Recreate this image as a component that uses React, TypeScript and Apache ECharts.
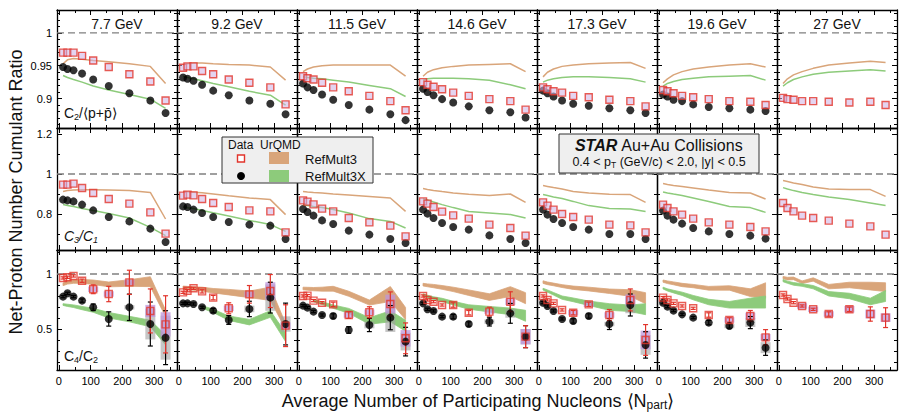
import React, { useEffect, useRef } from 'react';
import * as echarts from 'echarts';

const ENERGIES = ['7.7 GeV', '9.2 GeV', '11.5 GeV', '14.6 GeV', '17.3 GeV', '19.6 GeV', '27 GeV'];
const NPART = [13, 27, 46, 73, 108, 157, 222, 288, 336];
const X_TICKS = [0, 100, 200, 300];
const Y_TICKS = [[0.9, 0.95, 1], [0.8, 1, 1.2], [0.5, 1]];

// Row 1: C2/<p+pbar>
const C2_DATA3 = [
  [0.970, 0.970, 0.970, 0.965, 0.958, 0.948, 0.937, 0.926, 0.897],
  [0.947, 0.949, 0.949, 0.942, 0.937, 0.929, 0.924, 0.917, 0.891],
  [0.934, 0.931, 0.929, 0.924, 0.917, 0.911, 0.904, 0.896, 0.882],
  [0.925, 0.921, 0.918, 0.914, 0.909, 0.904, 0.899, 0.896, 0.883],
  [0.917, 0.914, 0.911, 0.909, 0.904, 0.902, 0.898, 0.896, 0.888],
  [0.913, 0.911, 0.908, 0.904, 0.902, 0.899, 0.896, 0.895, 0.890],
  [0.901, 0.899, 0.898, 0.896, 0.896, 0.895, 0.894, 0.895, 0.890],
];
const C2_DATA3X = [
  [0.948, 0.945, 0.943, 0.938, 0.929, 0.919, 0.908, 0.897, 0.878],
  [0.932, 0.930, 0.927, 0.921, 0.912, 0.905, 0.897, 0.892, 0.876],
  [0.923, 0.917, 0.913, 0.906, 0.898, 0.890, 0.883, 0.876, 0.867],
  [0.915, 0.910, 0.905, 0.899, 0.894, 0.888, 0.882, 0.879, 0.871],
  [0.912, 0.908, 0.903, 0.897, 0.892, 0.889, 0.885, 0.882, 0.878],
  [0.906, 0.903, 0.898, 0.896, 0.891, 0.887, 0.885, 0.883, 0.881],
  null,
];
const C2_URQMD3 = [
  [0.953, 0.959, 0.961, 0.960, 0.958, 0.956, 0.953, 0.949, 0.923],
  [0.951, 0.953, 0.954, 0.954, 0.953, 0.952, 0.951, 0.948, 0.928],
  [0.941, 0.945, 0.948, 0.950, 0.951, 0.951, 0.951, 0.951, 0.934],
  [0.934, 0.940, 0.944, 0.947, 0.949, 0.951, 0.952, 0.953, 0.941],
  [0.933, 0.940, 0.945, 0.949, 0.951, 0.953, 0.954, 0.955, 0.946],
  [0.924, 0.930, 0.936, 0.941, 0.945, 0.948, 0.951, 0.953, 0.948],
  [0.923, 0.930, 0.936, 0.941, 0.946, 0.951, 0.954, 0.957, 0.955],
];
const C2_URQMD3X = [
  [0.935, 0.932, 0.929, 0.925, 0.919, 0.913, 0.906, 0.899, 0.885],
  [0.934, 0.932, 0.930, 0.927, 0.923, 0.918, 0.911, 0.905, 0.890],
  [0.933, 0.932, 0.931, 0.930, 0.928, 0.925, 0.920, 0.915, 0.903],
  [0.928, 0.930, 0.931, 0.931, 0.931, 0.930, 0.928, 0.921, 0.915],
  [0.925, 0.928, 0.930, 0.932, 0.933, 0.933, 0.932, 0.930, 0.925],
  [0.919, 0.923, 0.926, 0.929, 0.931, 0.933, 0.934, 0.935, 0.928],
  [0.919, 0.924, 0.929, 0.933, 0.937, 0.940, 0.942, 0.944, 0.942],
];

// Row 2: C3/C1
const C3_DATA3 = [
  [0.947, 0.947, 0.952, 0.930, 0.905, 0.875, 0.852, 0.808, 0.702],
  [0.892, 0.897, 0.893, 0.875, 0.855, 0.835, 0.818, 0.813, 0.708],
  [0.868, 0.862, 0.848, 0.827, 0.813, 0.780, 0.758, 0.742, 0.688],
  [0.863, 0.852, 0.835, 0.812, 0.793, 0.777, 0.747, 0.730, 0.692],
  [0.858, 0.842, 0.822, 0.800, 0.785, 0.772, 0.747, 0.743, 0.708],
  [0.847, 0.830, 0.813, 0.797, 0.777, 0.758, 0.747, 0.735, 0.713],
  [0.855, 0.830, 0.813, 0.792, 0.780, 0.767, 0.752, 0.738, 0.697],
];
const C3_DATA3X = [
  [0.872, 0.868, 0.863, 0.847, 0.818, 0.785, 0.763, 0.727, 0.660],
  [0.838, 0.835, 0.822, 0.805, 0.785, 0.760, 0.747, 0.742, 0.675],
  [0.825, 0.810, 0.792, 0.768, 0.750, 0.717, 0.697, 0.675, 0.655],
  [0.822, 0.802, 0.780, 0.755, 0.735, 0.722, 0.693, 0.675, 0.655],
  [0.822, 0.797, 0.775, 0.755, 0.735, 0.722, 0.700, 0.700, 0.675],
  [0.817, 0.792, 0.772, 0.752, 0.730, 0.713, 0.700, 0.692, 0.677],
  null,
];
const C3_URQMD3 = [
  [0.913, 0.917, 0.920, 0.921, 0.921, 0.920, 0.917, 0.908, 0.775],
  [0.913, 0.911, 0.909, 0.906, 0.900, 0.891, 0.880, 0.872, 0.797],
  [0.913, 0.910, 0.907, 0.905, 0.900, 0.895, 0.888, 0.880, 0.813],
  [0.927, 0.923, 0.918, 0.912, 0.905, 0.899, 0.893, 0.900, 0.858],
  [0.942, 0.938, 0.932, 0.925, 0.913, 0.905, 0.899, 0.897, 0.858],
  [0.952, 0.947, 0.942, 0.937, 0.930, 0.920, 0.908, 0.905, 0.875],
  [0.967, 0.962, 0.955, 0.947, 0.935, 0.925, 0.923, 0.922, 0.888],
];
const C3_URQMD3X = [
  [0.847, 0.843, 0.837, 0.828, 0.817, 0.802, 0.780, 0.733, 0.692],
  [0.835, 0.831, 0.827, 0.818, 0.806, 0.790, 0.768, 0.747, 0.713],
  [0.847, 0.843, 0.838, 0.832, 0.822, 0.805, 0.777, 0.763, 0.730],
  [0.877, 0.870, 0.860, 0.847, 0.832, 0.813, 0.805, 0.797, 0.780],
  [0.897, 0.892, 0.885, 0.877, 0.863, 0.842, 0.828, 0.825, 0.813],
  [0.910, 0.905, 0.900, 0.893, 0.880, 0.862, 0.838, 0.832, 0.808],
  [0.932, 0.925, 0.917, 0.907, 0.897, 0.885, 0.872, 0.855, 0.842],
];

// Row 3: C4/C2
const C4_DATA3 = [
  [0.964, 0.970, 0.982, 0.939, 0.861, 0.818, 0.924, 0.664, 0.542],
  [0.833, 0.848, 0.870, 0.842, 0.785, 0.688, 0.815, 0.845, 0.530],
  [0.800, 0.803, 0.758, 0.739, 0.724, 0.627, 0.652, 0.727, 0.415],
  [0.800, 0.764, 0.748, 0.718, 0.718, 0.648, 0.658, 0.748, 0.430],
  [0.800, 0.764, 0.733, 0.673, 0.648, 0.724, 0.627, 0.764, 0.400],
  [0.785, 0.764, 0.733, 0.709, 0.688, 0.627, 0.582, 0.618, 0.424],
  [0.809, 0.773, 0.739, 0.709, 0.679, 0.636, 0.679, 0.636, 0.603],
];
const C4_STAT3 = [
  [0.01, 0.01, 0.01, 0.015, 0.04, 0.07, 0.11, 0.2, 0.26],
  [0.01, 0.01, 0.01, 0.015, 0.02, 0.05, 0.08, 0.15, 0.19],
  [0.01, 0.01, 0.01, 0.01, 0.02, 0.03, 0.05, 0.11, 0.14],
  [0.01, 0.01, 0.01, 0.01, 0.02, 0.02, 0.04, 0.09, 0.10],
  [0.01, 0.01, 0.01, 0.01, 0.02, 0.02, 0.05, 0.10, 0.14],
  [0.01, 0.01, 0.01, 0.01, 0.01, 0.02, 0.02, 0.05, 0.07],
  [0.01, 0.01, 0.01, 0.01, 0.01, 0.02, 0.02, 0.065, 0.09],
];
const C4_SYS3 = [
  [0, 0, 0, 0, 0.025, 0.025, 0.025, 0.055, 0.11],
  [0, 0, 0, 0, 0, 0.025, 0.025, 0.08, 0.03],
  [0, 0, 0, 0, 0, 0.025, 0.025, 0.085, 0.075],
  [0, 0, 0, 0, 0, 0, 0.02, 0.03, 0.07],
  [0, 0, 0, 0, 0.025, 0.025, 0.025, 0.05, 0.085],
  [0, 0, 0, 0, 0, 0, 0.025, 0.03, 0.03],
  [0, 0, 0, 0.025, 0.025, 0.025, 0.03, 0.04, 0.04],
];
const C4_DATA3X = [
  [0.794, 0.824, 0.794, 0.758, 0.697, 0.591, 0.697, 0.545, 0.421],
  [0.733, 0.733, 0.727, 0.697, 0.667, 0.582, 0.682, 0.785, 0.545],
  [0.712, 0.694, 0.658, 0.627, 0.618, 0.491, 0.536, 0.603, 0.385],
  [0.733, 0.679, 0.664, 0.612, 0.612, 0.545, 0.567, 0.642, 0.430],
  [0.739, 0.709, 0.664, 0.591, 0.573, 0.618, 0.545, 0.718, 0.355],
  [0.739, 0.703, 0.667, 0.633, 0.603, 0.558, 0.527, 0.558, 0.330],
  null,
];
const C4_STAT3X = [
  [0.01, 0.01, 0.01, 0.015, 0.03, 0.065, 0.12, 0.2, 0.245],
  [0.01, 0.01, 0.01, 0.01, 0.02, 0.04, 0.07, 0.14, 0.19],
  [0.01, 0.01, 0.01, 0.01, 0.02, 0.03, 0.06, 0.11, 0.13],
  [0.01, 0.01, 0.01, 0.01, 0.02, 0.02, 0.04, 0.09, 0.10],
  [0.01, 0.01, 0.01, 0.01, 0.02, 0.02, 0.05, 0.10, 0.12],
  [0.01, 0.01, 0.01, 0.01, 0.01, 0.02, 0.02, 0.055, 0.07],
  null,
];
const C4_SYS3X = [
  [0, 0, 0, 0, 0, 0, 0.02, 0.14, 0.2],
  [0, 0, 0, 0, 0, 0, 0.03, 0.12, 0.07],
  [0, 0, 0, 0, 0, 0, 0.03, 0.13, 0.08],
  [0, 0, 0, 0, 0, 0, 0.02, 0.04, 0.07],
  [0, 0, 0, 0, 0, 0, 0.02, 0.075, 0.09],
  [0, 0, 0, 0, 0, 0, 0.02, 0.04, 0.05],
  null,
];
// UrQMD bands: centre and half-width
const C4_URQMD3 = [
  [0.906, 0.922, 0.930, 0.933, 0.925, 0.905, 0.918, 0.930, 0.642],
  [0.875, 0.872, 0.868, 0.862, 0.848, 0.835, 0.815, 0.820, 0.525],
  [0.868, 0.866, 0.862, 0.862, 0.866, 0.820, 0.740, 0.818, 0.640],
  [0.903, 0.897, 0.890, 0.878, 0.860, 0.830, 0.790, 0.840, 0.780],
  [0.926, 0.915, 0.905, 0.890, 0.875, 0.863, 0.843, 0.827, 0.780],
  [0.935, 0.925, 0.915, 0.900, 0.890, 0.870, 0.873, 0.830, 0.850],
  [0.967, 0.958, 0.960, 0.925, 0.950, 0.885, 0.900, 0.890, 0.880],
];
const C4_URQMD3_HW = [
  [0.012, 0.014, 0.015, 0.017, 0.02, 0.022, 0.03, 0.045, 0.03],
  [0.015, 0.015, 0.015, 0.018, 0.02, 0.025, 0.03, 0.06, 0.025],
  [0.012, 0.013, 0.015, 0.018, 0.022, 0.023, 0.023, 0.068, 0.055],
  [0.012, 0.013, 0.015, 0.017, 0.02, 0.025, 0.03, 0.045, 0.05],
  [0.012, 0.012, 0.012, 0.013, 0.015, 0.017, 0.02, 0.03, 0.05],
  [0.01, 0.012, 0.013, 0.015, 0.015, 0.017, 0.02, 0.035, 0.07],
  [0.01, 0.012, 0.012, 0.012, 0.015, 0.02, 0.025, 0.035, 0.04],
];
const C4_URQMD3X = [
  [0.722, 0.715, 0.707, 0.690, 0.670, 0.625, 0.590, 0.550, 0.400],
  [null, null, null, 0.700, 0.665, 0.598, 0.562, 0.636, 0.425],
  [null, null, 0.757, 0.735, 0.703, 0.665, 0.573, 0.615, 0.530],
  [0.810, 0.795, 0.780, 0.764, 0.735, 0.700, 0.680, 0.660, 0.620],
  [0.862, 0.845, 0.820, 0.785, 0.765, 0.734, 0.700, 0.688, 0.680],
  [0.872, 0.855, 0.840, 0.820, 0.785, 0.745, 0.720, 0.735, 0.745],
  [0.940, 0.925, 0.910, 0.900, 0.880, 0.820, 0.800, 0.750, 0.800],
];
const C4_URQMD3X_HW = [
  [0.008, 0.01, 0.012, 0.015, 0.018, 0.025, 0.025, 0.03, 0.045],
  [0, 0, 0, 0.012, 0.015, 0.02, 0.025, 0.03, 0.04],
  [0, 0, 0.01, 0.012, 0.015, 0.022, 0.03, 0.05, 0.05],
  [0.01, 0.012, 0.013, 0.015, 0.017, 0.02, 0.025, 0.03, 0.05],
  [0.008, 0.01, 0.012, 0.015, 0.017, 0.02, 0.03, 0.03, 0.05],
  [0.008, 0.01, 0.012, 0.015, 0.02, 0.025, 0.03, 0.045, 0.055],
  [0.01, 0.01, 0.012, 0.012, 0.015, 0.02, 0.025, 0.03, 0.05],
];

const FONT = '"Liberation Sans", Arial, Helvetica, sans-serif';
const RED = '#e2342b';
const TAN = '#d9a57a';
const GREEN = '#8dcb7b';
const SQ_FILL = 'rgba(206,178,228,0.7)';

const COL_LEFT = 57;
const COL_W = 120;
const ROW_TOP = [10, 128, 250];
const ROW_H = [118, 122, 120];
const Y_RANGE = [[0.855, 1.035], [0.62, 1.23], [0.127, 1.218]];
const Y_SPLIT = [4, 3, 2];
const Y_MINOR = [5, 2, 5];
const X_MIN = -6;
const X_MAX = 372;

function bandSeries(gi: number, centre: (number | null)[], hw: number[], color: string) {
  const pts: number[][] = [];
  centre.forEach((v, i) => {
    if (v != null) pts.push([NPART[i], v - hw[i], v + hw[i]]);
  });
  return {
    type: 'custom',
    xAxisIndex: 2 * gi,
    yAxisIndex: 2 * gi,
    silent: true,
    data: pts,
    encode: { x: 0, y: [1, 2] },
    renderItem: (params: any, api: any) => {
      if (params.dataIndex !== 0) return null;
      const up = pts.map((p) => api.coord([p[0], p[2]]));
      const lo = pts.map((p) => api.coord([p[0], p[1]])).reverse();
      return { type: 'polygon', shape: { points: up.concat(lo) }, style: { fill: color, stroke: color, lineWidth: 0.8 } };
    },
  };
}

function errSeries(gi: number, vals: number[], errs: number[], color: string) {
  return {
    type: 'custom',
    xAxisIndex: 2 * gi,
    yAxisIndex: 2 * gi,
    silent: true,
    data: vals.map((v, i) => [NPART[i], v, errs[i]]),
    encode: { x: 0, y: 1 },
    renderItem: (params: any, api: any) => {
      const x = api.value(0), y = api.value(1), e = api.value(2);
      const t = api.coord([x, y + e]);
      const b = api.coord([x, y - e]);
      const cap = 2.5;
      const st = { stroke: color, lineWidth: 1.2 };
      return {
        type: 'group',
        children: [
          { type: 'line', shape: { x1: t[0], y1: t[1], x2: b[0], y2: b[1] }, style: st },
          { type: 'line', shape: { x1: t[0] - cap, y1: t[1], x2: t[0] + cap, y2: t[1] }, style: st },
          { type: 'line', shape: { x1: b[0] - cap, y1: b[1], x2: b[0] + cap, y2: b[1] }, style: st },
        ],
      };
    },
  };
}

function sysSeries(gi: number, vals: number[], sys: number[], color: string) {
  return {
    type: 'custom',
    xAxisIndex: 2 * gi,
    yAxisIndex: 2 * gi,
    silent: true,
    data: vals.map((v, i) => [NPART[i], v, sys[i]]),
    encode: { x: 0, y: 1 },
    renderItem: (params: any, api: any) => {
      const s = api.value(2);
      if (!(s > 0)) return null;
      const x = api.value(0), y = api.value(1);
      const t = api.coord([x, y + s]);
      const b = api.coord([x, y - s]);
      return { type: 'rect', shape: { x: t[0] - 5, y: t[1], width: 10, height: b[1] - t[1] }, style: { fill: color } };
    },
  };
}

function buildOption() {
  const grid: any[] = [];
  const xAxis: any[] = [];
  const yAxis: any[] = [];
  const series: any[] = [];
  const lineSt = { color: '#000', width: 1.3 };
  for (let r = 0; r < 3; r++) {
    for (let c = 0; c < 7; c++) {
      const gi = r * 7 + c;
      grid.push({ left: COL_LEFT + c * COL_W, top: ROW_TOP[r], width: COL_W, height: ROW_H[r] });
      ['bottom', 'top'].forEach((pos, k) => {
        xAxis.push({
          gridIndex: gi, type: 'value', position: pos, min: X_MIN, max: X_MAX, splitNumber: 4,
          axisLine: { show: true, onZero: false, lineStyle: lineSt },
          axisTick: { show: true, inside: true, length: 5, customValues: X_TICKS, lineStyle: { color: '#000', width: 1 } },
          minorTick: { show: true, splitNumber: 2, length: 3, lineStyle: { color: '#000', width: 1 } },
          axisLabel: {
            show: r === 2 && k === 0, customValues: X_TICKS, fontSize: 11, color: '#000', fontFamily: FONT, margin: 5,
          },
          splitLine: { show: false },
        });
      });
      ['left', 'right'].forEach((pos, k) => {
        yAxis.push({
          gridIndex: gi, type: 'value', position: pos, min: Y_RANGE[r][0], max: Y_RANGE[r][1], splitNumber: Y_SPLIT[r],
          axisLine: { show: true, onZero: false, lineStyle: lineSt },
          axisTick: { show: true, inside: true, length: 5, customValues: Y_TICKS[r], lineStyle: { color: '#000', width: 1 } },
          minorTick: { show: true, splitNumber: Y_MINOR[r], length: 3, lineStyle: { color: '#000', width: 1 } },
          axisLabel: {
            show: c === 0 && k === 0, customValues: Y_TICKS[r], fontSize: 11, color: '#000', fontFamily: FONT, margin: 5,
          },
          splitLine: { show: false },
        });
      });
      const ax = { xAxisIndex: 2 * gi, yAxisIndex: 2 * gi };
      series.push({
        ...ax, type: 'line', silent: true, symbol: 'none', data: [[X_MIN, 1], [X_MAX, 1]],
        lineStyle: { color: '#808080', width: 1.3, type: [7, 4] }, z: 1,
      });
      let red: number[], black: number[] | null;
      if (r < 2) {
        const u3 = r === 0 ? C2_URQMD3[c] : C3_URQMD3[c];
        const u3x = r === 0 ? C2_URQMD3X[c] : C3_URQMD3X[c];
        series.push({ ...ax, type: 'line', silent: true, symbol: 'none', data: NPART.map((n, i) => [n, u3[i]]), lineStyle: { color: TAN, width: 1.5 }, z: 2 });
        series.push({ ...ax, type: 'line', silent: true, symbol: 'none', data: NPART.map((n, i) => [n, u3x[i]]), lineStyle: { color: GREEN, width: 1.5 }, z: 2 });
        red = r === 0 ? C2_DATA3[c] : C3_DATA3[c];
        black = r === 0 ? C2_DATA3X[c] : C3_DATA3X[c];
      } else {
        series.push({ ...bandSeries(gi, C4_URQMD3[c], C4_URQMD3_HW[c], TAN), z: 2 });
        series.push({ ...bandSeries(gi, C4_URQMD3X[c], C4_URQMD3X_HW[c], GREEN), z: 2 });
        red = C4_DATA3[c];
        black = C4_DATA3X[c];
        if (black) series.push({ ...sysSeries(gi, black, C4_SYS3X[c] as number[], 'rgba(160,160,160,0.6)'), z: 3 });
        series.push({ ...sysSeries(gi, red, C4_SYS3[c], 'rgba(190,150,220,0.75)'), z: 3 });
        if (black) series.push({ ...errSeries(gi, black, C4_STAT3X[c] as number[], '#000'), z: 4 });
        series.push({ ...errSeries(gi, red, C4_STAT3[c], RED), z: 4 });
      }
      if (black) {
        series.push({ ...ax, type: 'scatter', silent: true, symbol: 'circle', symbolSize: 8, data: NPART.map((n, i) => [n, black![i]]), itemStyle: { color: '#000' }, z: 5 });
      }
      series.push({
        ...ax, type: 'scatter', silent: true, symbol: 'rect', symbolSize: 7, data: NPART.map((n, i) => [n, red[i]]),
        itemStyle: { color: r < 2 ? SQ_FILL : 'rgba(255,255,255,0)', borderColor: RED, borderWidth: 1.4 }, z: 6,
      });
    }
  }

  const txt = (x: number, y: number, text: string, size: number, extra: any = {}) => ({
    type: 'text', x, y, silent: true, z: 100,
    style: {
      text, fill: '#111', font: `${size}px ${FONT}`, fontSize: size, fontFamily: FONT,
      align: extra.align || 'left', verticalAlign: 'middle', textAlign: extra.align || 'left', textVerticalAlign: 'middle',
      ...(extra.style || {}),
    },
    ...(extra.el || {}),
  });

  const graphic: any[] = [];
  ENERGIES.forEach((e, c) => graphic.push(txt(COL_LEFT + c * COL_W + COL_W / 2, 24, e, 14, { align: 'center' })));

  const sub = { fontSize: 9, fontFamily: FONT, lineHeight: 6, verticalAlign: 'bottom', fill: '#111' };
  const mainR = (s: number, it = false) => ({ fontSize: s, fontFamily: FONT, lineHeight: 16, fill: '#111', fontStyle: it ? 'italic' : 'normal' });
  graphic.push(txt(64, 113, '{m|C}{s|2}{m|/⟨p+p\u0304⟩}', 14, { style: { rich: { m: mainR(14), s: sub } } }));
  graphic.push(txt(64, 236, '{m|C}{s|3}{m|/C}{s|1}', 14, { style: { rich: { m: mainR(14, true), s: { ...sub, fontStyle: 'italic' } } } }));
  graphic.push(txt(64, 356, '{m|C}{s|4}{m|/C}{s|2}', 14, { style: { rich: { m: mainR(14), s: sub } } }));

  // axis titles
  graphic.push({
    type: 'text', x: 16, y: 192, rotation: Math.PI / 2, silent: true,
    style: { text: 'Net-Proton Number Cumulant Ratio', fill: '#111', font: `18px ${FONT}`, align: 'center', verticalAlign: 'middle', textAlign: 'center', textVerticalAlign: 'middle' },
  });
  graphic.push(txt(478, 401, '{m|Average Number of Participating Nucleons ⟨N}{s|part}{m|⟩}', 18, {
    align: 'center',
    style: { rich: { m: { fontSize: 18, fontFamily: FONT, lineHeight: 20, fill: '#111' }, s: { fontSize: 12, fontFamily: FONT, lineHeight: 8, verticalAlign: 'bottom', fill: '#111' } } },
  }));

  // legend box
  graphic.push({ type: 'rect', silent: true, z: 90, shape: { x: 222, y: 137, width: 151, height: 46 }, style: { fill: '#efefef', stroke: '#333', lineWidth: 1 } });
  graphic.push(txt(228, 145, 'Data', 12));
  graphic.push(txt(260, 145, 'UrQMD', 12));
  graphic.push({ type: 'rect', silent: true, z: 100, shape: { x: 237.5, y: 155, width: 7, height: 7 }, style: { fill: '#fff', stroke: RED, lineWidth: 1.4 } });
  graphic.push({ type: 'rect', silent: true, z: 100, shape: { x: 269, y: 152, width: 20, height: 12 }, style: { fill: TAN } });
  graphic.push(txt(305, 159, 'RefMult3', 13));
  graphic.push({ type: 'circle', silent: true, z: 100, shape: { cx: 241, cy: 176, r: 4 }, style: { fill: '#000' } });
  graphic.push({ type: 'rect', silent: true, z: 100, shape: { x: 269, y: 170, width: 20, height: 12 }, style: { fill: GREEN } });
  graphic.push(txt(305, 176, 'RefMult3X', 13));

  // STAR box
  graphic.push({ type: 'rect', silent: true, z: 90, shape: { x: 559, y: 134, width: 200, height: 39 }, style: { fill: '#efefef', stroke: '#333', lineWidth: 1 } });
  graphic.push(txt(659, 145, '{b|STAR}{m| Au+Au Collisions}', 16, {
    align: 'center',
    style: { rich: { b: { fontSize: 16, fontFamily: FONT, fontWeight: 'bold', fontStyle: 'italic', fill: '#111' }, m: { fontSize: 16, fontFamily: FONT, fill: '#111' } } },
  }));
  graphic.push(txt(659, 162, '{m|0.4 < p}{s|T}{m| (GeV/c) < 2.0, |y| < 0.5}', 12.5, {
    align: 'center',
    style: { rich: { m: { fontSize: 12.5, fontFamily: FONT, lineHeight: 14, fill: '#111' }, s: { fontSize: 8.5, fontFamily: FONT, lineHeight: 5, verticalAlign: 'bottom', fill: '#111' } } },
  }));

  return { animation: false, backgroundColor: '#fff', grid, xAxis, yAxis, series, graphic };
}

export default function App() {
  const ref = useRef<HTMLDivElement>(null);
  useEffect(() => {
    if (!ref.current) return;
    const chart = echarts.init(ref.current, undefined, { renderer: 'svg' });
    chart.setOption(buildOption() as any);
    return () => chart.dispose();
  }, []);
  return <div ref={ref} style={{ position: 'fixed', left: 0, top: 0, width: 899, height: 417, background: '#fff' }} />;
}
